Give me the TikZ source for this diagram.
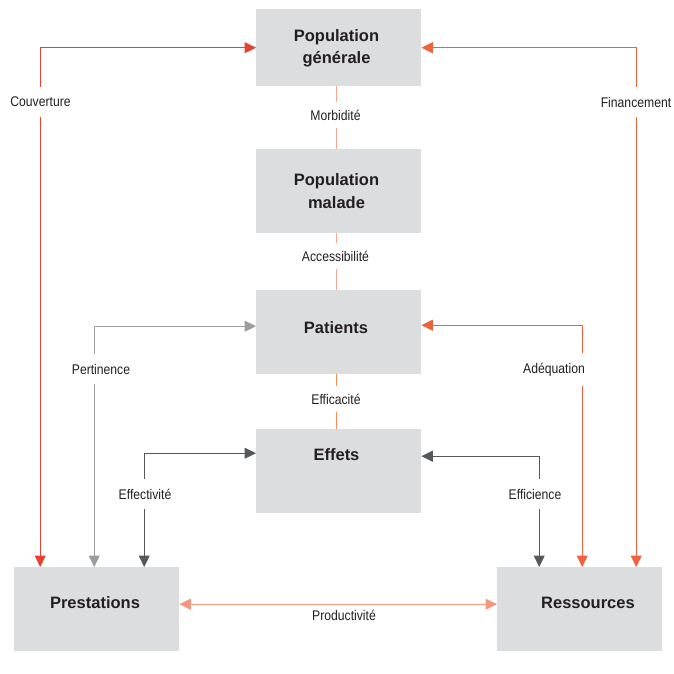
\documentclass[tikz,border=0pt]{standalone}
\usepackage{fontspec}
\setmainfont{Liberation Sans}
\newfontfamily\labfont{Liberation Sans}[FakeStretch=0.87]
\usetikzlibrary{arrows.meta}
\definecolor{boxgray}{HTML}{DCDDDF}
\definecolor{txt}{HTML}{231F20}
\definecolor{cred}{HTML}{E8412F}
\definecolor{corange}{HTML}{F0623F}
\definecolor{cgray}{HTML}{9B9D9F}
\definecolor{cdark}{HTML}{55595C}
\definecolor{csalmon}{HTML}{F4977E}
\definecolor{clight}{HTML}{F5A894}
\definecolor{cefc}{HTML}{F58B55}
\begin{document}
\begin{tikzpicture}[x=1pt,y=-1pt,
  box/.style={fill=boxgray,draw=none,inner sep=0pt,anchor=north west,minimum width=165pt},
  ttl/.style={font=\bfseries\fontsize{16.5}{22.5}\selectfont,text=txt,align=center,inner sep=0pt},
  lab/.style={font=\labfont\fontsize{14}{16}\selectfont,text=txt,fill=white,inner xsep=2pt,inner ysep=10pt},
  conn/.style={line width=1.1pt},
  tipboth/.style={{Triangle[length=11.5pt,width=11pt]}-{Triangle[length=11.5pt,width=11pt]}}]
\useasboundingbox (0,0) rectangle (673,674);
% boxes
\node[box,minimum height=77pt] (pg) at (256,9) {};
\node[box,minimum height=84pt] (pm) at (256,149) {};
\node[box,minimum height=84pt] (pat) at (256,290) {};
\node[box,minimum height=84pt] (eff) at (256,429) {};
\node[box,minimum height=84pt] (pre) at (14,567) {};
\node[box,minimum height=84pt] (res) at (497,567) {};
% titles
\node[ttl] (pgT) at (336.5,48.5) {Population\\générale};
\node[ttl] (pmT) at (336.5,191) {Population\\malade};
\node[ttl,anchor=base] (patT) at (336,333.7) {Patients};
\node[ttl,anchor=base] (effT) at (336.5,460.7) {Effets};
\node[ttl,anchor=base] (preT) at (95,608.7) {Prestations};
\node[ttl,anchor=base] (resT) at (588,608.7) {Ressources};
% central chain
\draw[conn,draw=clight] ([xshift=-2.5pt]pg.south) -- ([xshift=-2.5pt]pm.north);
\draw[conn,draw=clight] ([xshift=-2.5pt]pm.south) -- ([xshift=-2.5pt]pat.north);
\draw[conn,draw=cefc] ([xshift=-2.5pt]pat.south) -- ([xshift=-2.5pt]eff.north);
% side connectors
\draw[conn,tipboth,draw=cred] (pg.west) -| ([xshift=-56.5pt]pre.north);
\draw[conn,tipboth,draw=corange] (pg.east) -| ([xshift=56.5pt]res.north);
\draw[conn,tipboth,draw=cgray] ([yshift=6pt]pat.west) -| ([xshift=-2.5pt]pre.north);
\draw[conn,tipboth,draw=corange] ([yshift=7pt]pat.east) -| ([xshift=2.5pt]res.north);
\draw[conn,tipboth,draw=cdark] ([yshift=18pt]eff.west) -| ([xshift=47.5pt]pre.north);
\draw[conn,tipboth,draw=cdark] ([yshift=15pt]eff.east) -| ([xshift=-40.5pt]res.north);
\draw[conn,tipboth,draw=csalmon] ([yshift=5pt]pre.east) -- ([yshift=5pt]res.west);
% labels
\node[lab] (lcouv) at (40.5,102) {Couverture};
\node[lab] (lfin) at (636,102) {Financement};
\node[lab,inner ysep=8pt] (lmor) at (335.5,115) {Morbidité};
\node[lab,inner ysep=8pt] (lacc) at (335.5,256) {Accessibilité};
\node[lab] (lper) at (101,369) {Pertinence};
\node[lab] (lade) at (554,369.5) {Adéquation};
\node[lab,inner ysep=8pt] (lefc) at (336,399) {Efficacité};
\node[lab] (left) at (145,494) {Effectivité};
\node[lab] (leff) at (535,494) {Efficience};
\node[lab,fill=none,inner ysep=1pt] (lprod) at (344,615) {Productivité};
\end{tikzpicture}
\end{document}
